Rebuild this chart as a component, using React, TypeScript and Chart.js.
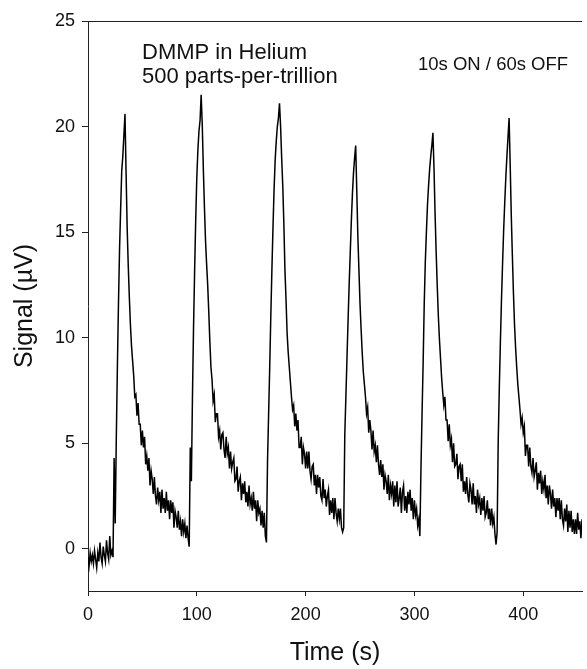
import React, { useEffect, useRef } from "react";
import { Chart, registerables } from "chart.js";

Chart.register(...registerables);

// Sampling interval of the trace (seconds per value)
const sampleStep = 1;

// Signal (µV), one value per second
const baselineStart = [
  -0.4, -0.8, -0.2, -0.6, -0.3, -0.7, -0.1, -0.5, -0.9, -0.2, -0.6, 0.3,
  -0.4, -0.7, 0.1, -0.3, -0.6, 0.4, -0.2, -0.5, 0.6, -0.3, -0.1, -0.4,
];
const pulse1 = [
  4.3, 1.2, 5.2, 8.6, 11.6, 14.2, 16.1, 17.9, 18.6, 19.6, 20.6, 17.8, 15.2, 13.4,
  11.9, 10.6, 9.6, 8.9, 8.2, 7.2,
  7.3, 6.3, 6.9, 5.9, 5.9, 4.9, 5.6, 4.8, 5.3, 4.0,
  4.4, 3.7, 4.3, 3.0, 3.7, 3.3, 2.6, 3.4, 2.5, 2.1,
  2.9, 2.3, 2.7, 1.7, 2.8, 1.9, 2.4, 1.7, 2.7, 1.8,
  2.3, 1.4, 2.3, 1.7, 2.2, 1.0, 1.8, 1.5, 1.0, 1.8,
  0.9, 1.3, 0.6, 1.4, 0.8, 1.2, 0.5, 1.1, 0.5, 0.1,
];
const pulse2 = [
  4.8, 3.2, 7.2, 10.5, 13.2, 15.6, 17.6, 18.9, 19.8, 20.3, 21.5, 20.1, 18.0,
  16.2, 14.6, 13.5, 12.5, 11.2, 9.8, 8.6, 8.0,
  7.0, 7.3, 6.0, 6.4, 6.4, 5.3, 5.6, 4.7, 5.4, 5.5,
  4.7, 4.3, 5.3, 4.5, 4.8, 3.8, 4.6, 3.8, 4.1, 4.3,
  3.2, 3.3, 3.9, 2.7, 3.2, 3.4, 2.3, 3.1, 2.6, 3.2,
  2.2, 2.7, 2.0, 3.0, 2.1, 2.4, 1.8, 2.7, 1.9, 2.3,
  1.3, 2.3, 1.7, 1.9, 1.1, 1.8, 1.0, 1.7, 0.6, 0.3,
];
const pulse3 = [
  4.2, 6.4, 8.6, 11.0, 13.2, 15.2, 17.0, 18.4, 19.3, 20.0, 20.4, 21.1, 20.0,
  18.5, 17.2, 15.4, 13.2, 11.8, 10.2, 9.3, 8.6, 7.9, 7.2, 6.6,
  6.8, 5.8, 6.4, 5.6, 6.1, 4.8, 4.8, 5.3, 4.0, 4.8,
  4.5, 3.8, 4.6, 3.8, 4.6, 3.7, 3.3, 3.9, 4.0, 3.0,
  3.5, 2.6, 3.5, 2.9, 3.4, 2.5, 2.3, 3.3, 2.4, 2.8,
  2.0, 2.5, 2.8, 1.6, 2.3, 1.7, 2.4, 1.4, 2.4, 1.7,
  1.3, 1.9, 1.4, 1.9, 1.0, 0.8,
];
const pulse4 = [
  1.0, 5.4, 7.2, 9.0, 10.8, 12.5, 14.0, 15.5, 16.8, 17.8, 18.5, 19.1, 17.0,
  14.8, 13.2, 11.6, 10.4, 9.3, 8.4, 7.8, 7.2,
  6.4, 6.7, 5.5, 6.1, 5.6, 4.7, 5.6, 4.6, 4.9, 4.1,
  4.9, 4.0, 3.5, 4.2, 3.4, 4.0, 2.8, 3.5, 3.2, 2.6,
  3.5, 2.3, 3.0, 2.6, 3.2, 2.0, 3.0, 2.2, 3.2, 2.0,
  2.4, 2.9, 1.7, 2.7, 3.0, 1.8, 2.5, 1.7, 2.7, 2.1,
  2.8, 1.8, 2.4, 1.4, 2.3, 1.6, 1.9, 1.1, 1.4, 0.6,
];
const pulse5 = [
  3.8, 6.4, 8.8, 11.6, 13.6, 15.0, 16.3, 17.2, 18.0, 18.6, 19.1, 19.7, 18.0,
  15.8, 14.0, 12.4, 11.0, 9.9, 9.0, 8.1, 7.4, 6.8,
  7.2, 6.1, 6.1, 5.1, 5.9, 4.9, 5.2, 4.1, 5.0, 3.9,
  4.0, 4.5, 3.3, 3.9, 4.0, 3.2, 4.0, 2.7, 3.2, 2.6,
  3.4, 2.6, 2.2, 3.1, 2.8, 2.1, 3.1, 2.1, 2.5, 1.7,
  2.8, 2.1, 2.4, 1.6, 2.4, 1.8, 2.5, 1.5, 1.7, 2.3,
  1.4, 1.9, 1.1, 1.9, 1.2, 1.5, 0.7, 0.2,
];
const pulse6 = [
  0.8, 5.1, 7.6, 9.8, 11.8, 13.5, 15.1, 16.4, 17.6, 18.6, 19.5, 20.4, 18.2,
  15.8, 13.9, 12.1, 10.6, 9.5, 8.6, 7.8, 7.2, 6.6,
  5.9, 6.2, 5.5, 5.8, 4.4, 4.9, 4.9, 3.9, 4.8, 3.9,
  3.6, 4.3, 3.4, 3.7, 4.1, 2.8, 3.6, 3.1, 3.7, 2.6,
  3.2, 2.8, 3.5, 2.4, 3.0, 2.1, 3.0, 2.6, 1.9, 2.8,
  2.0, 2.4, 1.5, 2.4, 1.8, 2.4, 1.4, 2.3, 1.4, 1.1,
  1.9, 1.3, 2.1, 0.8, 1.8, 1.0, 1.8, 0.8, 1.4, 0.7,
  1.4, 0.7, 1.7, 0.9, 1.3, 0.5, 1.4,
];

const xTicks = [0, 100, 200, 300, 400];
const yTicks = [0, 5, 10, 15, 20, 25];
const xMin = 0;
const xMax = 454;
const yMin = -2;
const yMax = 25;

const xTitle = "Time (s)";
const yTitle = "Signal (\u00B5V)";
const noteLines = ["DMMP in Helium", "500 parts-per-trillion"];
const noteRight = "10s ON / 60s OFF";

const FONT = "'Liberation Sans', Arial, Helvetica, sans-serif";

export default function App() {
  const canvasRef = useRef<HTMLCanvasElement | null>(null);

  useEffect(() => {
    const canvas = canvasRef.current;
    if (!canvas) return;
    const signal = [
      ...baselineStart,
      ...pulse1,
      ...pulse2,
      ...pulse3,
      ...pulse4,
      ...pulse5,
      ...pulse6,
    ];
    const points = signal.map((v, i) => ({ x: i * sampleStep, y: v }));

    const framePlugin = {
      id: "frameAndNotes",
      afterDraw(chart: any) {
        const { ctx, chartArea } = chart;
        ctx.save();
        ctx.strokeStyle = "#222";
        ctx.lineWidth = 1;
        ctx.beginPath();
        ctx.moveTo(chartArea.left, chartArea.top + 0.5);
        ctx.lineTo(chartArea.right, chartArea.top + 0.5);
        ctx.stroke();

        ctx.fillStyle = "#111";
        ctx.textAlign = "left";
        ctx.textBaseline = "alphabetic";
        ctx.font = `22px ${FONT}`;
        ctx.fillText(noteLines[0], 142, 59);
        ctx.fillText(noteLines[1], 142, 83);
        ctx.font = `18.5px ${FONT}`;
        ctx.fillText(noteRight, 418, 70);
        ctx.restore();
      },
    };

    const chart = new Chart(canvas, {
      type: "line",
      data: {
        datasets: [
          {
            data: points,
            borderColor: "#000",
            borderWidth: 1.5,
            pointRadius: 0,
            tension: 0,
            fill: false,
          },
        ],
      },
      options: {
        responsive: false,
        animation: false,
        events: [],
        layout: { padding: { left: 0, top: 21, right: 5, bottom: 0 } },
        plugins: {
          legend: { display: false },
          tooltip: { enabled: false },
        },
        scales: {
          x: {
            type: "linear",
            min: xMin,
            max: xMax,
            afterBuildTicks: (scale: any) => {
              scale.ticks = xTicks.map((v) => ({ value: v }));
            },
            afterFit: (scale: any) => {
              scale.height = 78;
            },
            grid: {
              display: true,
              drawOnChartArea: false,
              drawTicks: true,
              tickLength: 5,
              color: "#222",
            },
            border: { display: true, color: "#222", width: 1 },
            ticks: {
              autoSkip: false,
              maxRotation: 0,
              padding: 8,
              color: "#111",
              font: { family: FONT, size: 18 },
            },
            title: {
              display: true,
              text: xTitle,
              color: "#111",
              font: { family: FONT, size: 25 },
              padding: { top: 0, bottom: 1 },
            },
          },
          y: {
            type: "linear",
            min: yMin,
            max: yMax,
            afterBuildTicks: (scale: any) => {
              scale.ticks = yTicks.map((v) => ({ value: v }));
            },
            afterFit: (scale: any) => {
              scale.width = 88;
            },
            grid: {
              display: true,
              drawOnChartArea: false,
              drawTicks: true,
              tickLength: 6,
              color: "#222",
            },
            border: { display: true, color: "#222", width: 1 },
            ticks: {
              autoSkip: false,
              padding: 7,
              color: "#111",
              font: { family: FONT, size: 18 },
            },
            title: {
              display: true,
              text: yTitle,
              color: "#111",
              font: { family: FONT, size: 25 },
              padding: { top: 10, bottom: 0 },
            },
          },
        },
      },
      plugins: [framePlugin],
    });

    return () => {
      chart.destroy();
    };
  }, []);

  return (
    <div style={{ position: "absolute", left: 0, top: 0, width: 587, height: 669, background: "#fff" }}>
      <canvas ref={canvasRef} width={587} height={669} style={{ display: "block" }} />
    </div>
  );
}
